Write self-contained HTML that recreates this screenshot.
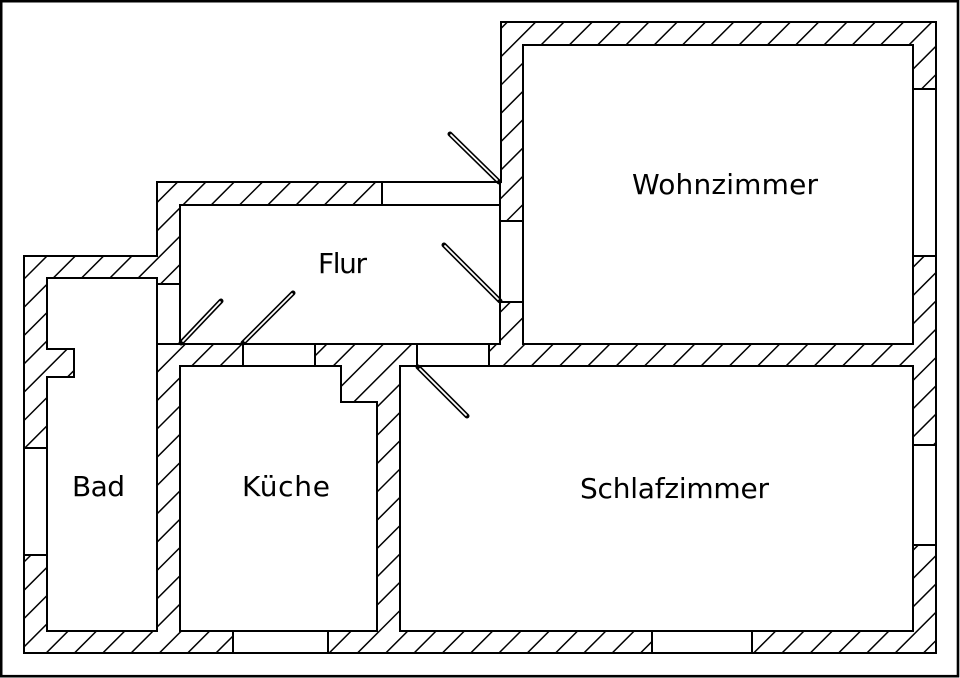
<!DOCTYPE html>
<html>
<head>
<meta charset="utf-8">
<style>
html,body{margin:0;padding:0;background:#fff;}
svg{display:block;}
text{font-family:"DejaVu Sans","Liberation Sans",sans-serif;font-size:28px;fill:#000;}
</style>
</head>
<body>
<svg width="960" height="678" viewBox="0 0 960 678" xmlns="http://www.w3.org/2000/svg">
  <defs>
    <clipPath id="wc">
      <polygon points="24,256 157,256 157,182 501,182 501,22 936,22 936,653 24,653"/>
    </clipPath>
  </defs>
  <rect x="0" y="0" width="960" height="678" fill="#fff"/>
  <!-- outer frame -->
  <rect x="1.2" y="1.2" width="956.8" height="675" fill="none" stroke="#000" stroke-width="2.6"/>

  <!-- wall mass -->
  <polygon points="24,256 157,256 157,182 501,182 501,22 936,22 936,653 24,653" fill="#fff"/>
  <g clip-path="url(#wc)">
    <path stroke="#000" stroke-width="1.5" fill="none" d="
M274.7 0l-700 700 M303 0l-700 700 M331.3 0l-700 700 M359.6 0l-700 700 M387.9 0l-700 700
M416.2 0l-700 700 M444.5 0l-700 700 M472.8 0l-700 700 M501.1 0l-700 700 M529.4 0l-700 700
M557.7 0l-700 700 M586 0l-700 700 M614.3 0l-700 700 M642.6 0l-700 700 M670.9 0l-700 700
M699.2 0l-700 700 M727.5 0l-700 700 M755.8 0l-700 700 M784.1 0l-700 700 M812.4 0l-700 700
M840.7 0l-700 700 M869 0l-700 700 M897.3 0l-700 700 M925.6 0l-700 700 M953.9 0l-700 700
M982.2 0l-700 700 M1010.5 0l-700 700 M1038.8 0l-700 700 M1067.1 0l-700 700 M1095.4 0l-700 700
M1123.7 0l-700 700 M1152 0l-700 700 M1180.3 0l-700 700 M1208.6 0l-700 700 M1236.9 0l-700 700
M1265.2 0l-700 700 M1293.5 0l-700 700 M1321.8 0l-700 700 M1350.1 0l-700 700 M1378.4 0l-700 700
M1406.7 0l-700 700 M1435 0l-700 700 M1463.3 0l-700 700 M1491.6 0l-700 700 M1519.9 0l-700 700
M1548.2 0l-700 700 M1576.5 0l-700 700 M1604.8 0l-700 700"/>
  </g>
  <polygon points="24,256 157,256 157,182 501,182 501,22 936,22 936,653 24,653" fill="none" stroke="#000" stroke-width="2"/>

  <!-- rooms -->
  <g fill="#fff" stroke="#000" stroke-width="2">
    <polygon points="47,278 157,278 157,631 47,631 47,377 74,377 74,349 47,349"/>
    <polygon points="180,366 341,366 341,402 377,402 377,631 180,631"/>
    <rect x="180" y="205" width="320" height="139"/>
    <rect x="523" y="45" width="390" height="299"/>
    <rect x="400" y="366" width="513" height="265"/>
  </g>

  <!-- openings (doors / windows) -->
  <g fill="#fff" stroke="#000" stroke-width="2">
    <rect x="382" y="182" width="118" height="23"/>
    <rect x="500" y="221" width="23" height="81"/>
    <rect x="157" y="284" width="23" height="60"/>
    <rect x="243" y="344" width="72" height="22"/>
    <rect x="417" y="344" width="72" height="22"/>
    <rect x="913" y="89" width="23" height="167"/>
    <rect x="913" y="445" width="23" height="100"/>
    <rect x="24" y="448" width="23" height="107"/>
    <rect x="233" y="631" width="95" height="22"/>
    <rect x="652" y="631" width="100" height="22"/>
  </g>

  <!-- door leaves -->
  <g stroke-linecap="round">
    <g stroke="#000" stroke-width="5">
      <line x1="450" y1="134" x2="499" y2="182"/>
      <line x1="444" y1="245" x2="500" y2="301"/>
      <line x1="418" y1="367" x2="467" y2="416"/>
      <line x1="181" y1="343" x2="221" y2="301"/>
      <line x1="243" y1="343" x2="293" y2="293"/>
    </g>
    <g stroke="#fff" stroke-width="1.8">
      <line x1="451" y1="135" x2="497" y2="180"/>
      <line x1="445" y1="246" x2="498" y2="299"/>
      <line x1="420" y1="369" x2="466" y2="415"/>
      <line x1="183" y1="341" x2="220" y2="302"/>
      <line x1="245" y1="341" x2="292" y2="294"/>
    </g>
  </g>

  <!-- labels -->
  <text x="632" y="194" textLength="186" lengthAdjust="spacing">Wohnzimmer</text>
  <text x="318" y="273" textLength="49" lengthAdjust="spacing">Flur</text>
  <text x="72" y="496" textLength="53" lengthAdjust="spacing">Bad</text>
  <text x="242" y="496" textLength="88" lengthAdjust="spacing">Küche</text>
  <text x="580" y="498" textLength="189" lengthAdjust="spacing">Schlafzimmer</text>
</svg>
</body>
</html>
